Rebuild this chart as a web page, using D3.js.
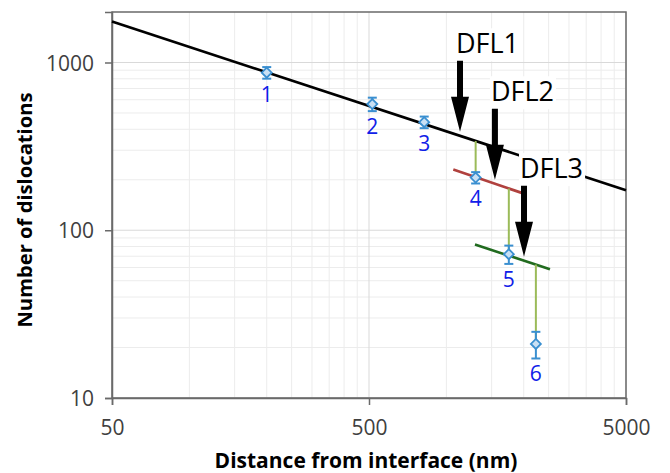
<!DOCTYPE html>
<html><head><meta charset="utf-8">
<script src="https://cdn.jsdelivr.net/npm/d3@7"></script>
<style>body{margin:0;background:#fff}svg{display:block}</style>
</head><body><svg id="c" width="670" height="473"></svg>
<script>
// ---- data ----
const pointLabels = ["1","2","3","4","5","6"];
const distances = [200, 515, 820, 1300, 1750, 2230];
const dislocations = [870, 565, 441, 206, 72, 21];
const errors = [69, 52, 35, 16, 9, 3.8];
const fitDFL1 = [[50, 1754], [5000, 173]];
const fitDFL2 = [[1064, 230], [1964, 167]];
const fitDFL3 = [[1292, 82.2], [2530, 58.6]];
const xTicks = [50, 500, 5000];
const yTicks = [10, 100, 1000];
const xMinor = [100,150,200,250,300,350,400,450,1000,1500,2000,2500,3000,3500,4000,4500];
const yMinor = [20,30,40,50,60,70,80,90,200,300,400,500,600,700,800,900];
const arrowLabels = ["DFL1", "DFL2", "DFL3"];
const arrowX = [1130, 1545, 2005];
const connectorFrom = [null, null, null, 0, 1, 2]; // which fit line feeds each point

// ---- layout ----
const svg = d3.select("#c");
const L = 112, R = 626, T = 12, B = 398;
const x = d3.scaleLog().domain([50, 5000]).range([L, R]);
const y = d3.scaleLog().domain([10, 2000]).range([B, T]);
const fits = [fitDFL1, fitDFL2, fitDFL3];
function fitAt(f, xv) {
  const [p0, p1] = f;
  const k = Math.log(p1[1] / p0[1]) / Math.log(p1[0] / p0[0]);
  return p0[1] * Math.pow(xv / p0[0], k);
}
const font = "'Open Sans', sans-serif";

// grid
const g = svg.append("g");
g.selectAll(".xm").data(xMinor).join("line")
  .attr("x1", d => x(d)).attr("x2", d => x(d)).attr("y1", T).attr("y2", B)
  .attr("stroke", "#ececec").attr("stroke-width", 1);
g.selectAll(".ym").data(yMinor).join("line")
  .attr("x1", L).attr("x2", R).attr("y1", d => y(d)).attr("y2", d => y(d))
  .attr("stroke", "#ececec").attr("stroke-width", 1);
g.selectAll(".xM").data(xTicks).join("line")
  .attr("x1", d => x(d)).attr("x2", d => x(d)).attr("y1", T).attr("y2", B)
  .attr("stroke", "#d9d9d9").attr("stroke-width", 1);
g.selectAll(".yM").data(yTicks).join("line")
  .attr("x1", L).attr("x2", R).attr("y1", d => y(d)).attr("y2", d => y(d))
  .attr("stroke", "#d9d9d9").attr("stroke-width", 1);

// frame
svg.append("rect").attr("x", L).attr("y", T).attr("width", R - L).attr("height", B - T)
  .attr("fill", "none").attr("stroke", "#6a6a6a").attr("stroke-width", 1.5);

// axes
const xAxis = svg.append("g").attr("transform", `translate(0,${B})`)
  .call(d3.axisBottom(x).tickValues(xTicks).tickFormat(d3.format("d")).tickSize(7).tickPadding(15));
const yAxis = svg.append("g").attr("transform", `translate(${L},0)`)
  .call(d3.axisLeft(y).tickValues(yTicks).tickFormat(d3.format("d")).tickSize(7).tickPadding(11));
[xAxis, yAxis].forEach(a => {
  a.select(".domain").attr("stroke", "#6a6a6a").attr("stroke-width", 1.5);
  a.selectAll(".tick line").attr("stroke", "#6a6a6a").attr("stroke-width", 1.5);
  a.selectAll(".tick text").attr("font-family", font).attr("font-size", 21).attr("fill", "#404040");
});
yAxis.selectAll(".tick text").attr("dy", "0.36em");

// axis titles
svg.append("text").attr("x", 366).attr("y", 468)
  .attr("text-anchor", "middle").attr("font-family", font).attr("font-weight", "bold")
  .attr("font-size", 21).attr("fill", "#000").text("Distance from interface (nm)");
svg.append("text").attr("transform", `translate(32,210) rotate(-90)`)
  .attr("text-anchor", "middle").attr("font-family", font).attr("font-weight", "bold")
  .attr("font-size", 20.2).attr("fill", "#000").text("Number of dislocations");

// fit lines
const line = d3.line().x(d => x(d[0])).y(d => y(d[1]));
const fitColors = ["#000000", "#b0413e", "#216b1f"];
fits.forEach((f, i) => {
  svg.append("path").attr("d", line(f)).attr("fill", "none")
    .attr("stroke", fitColors[i]).attr("stroke-width", 2.7);
});

// connectors
distances.forEach((xv, i) => {
  const fi = connectorFrom[i];
  if (fi === null) return;
  svg.append("line").attr("x1", x(xv)).attr("x2", x(xv))
    .attr("y1", y(fitAt(fits[fi], xv))).attr("y2", y(dislocations[i]))
    .attr("stroke", "#9bbb59").attr("stroke-width", 2);
});

// error bars + markers + labels
const blue = "#3a8fd0";
distances.forEach((xv, i) => {
  const cx = x(xv), v = dislocations[i], e = errors[i];
  const yt = y(v + e), yb = y(v - e);
  const eg = svg.append("g").attr("stroke", blue).attr("stroke-width", 2);
  eg.append("line").attr("x1", cx).attr("x2", cx).attr("y1", yt).attr("y2", yb);
  eg.append("line").attr("x1", cx - 4.5).attr("x2", cx + 4.5).attr("y1", yt).attr("y2", yt);
  eg.append("line").attr("x1", cx - 4.5).attr("x2", cx + 4.5).attr("y1", yb).attr("y2", yb);
  const cy = y(v), s = 5;
  svg.append("path").attr("d", `M${cx},${cy - s}L${cx + s},${cy}L${cx},${cy + s}L${cx - s},${cy}Z`)
    .attr("fill", "#c9e0f4").attr("stroke", blue).attr("stroke-width", 1.8);
  svg.append("text").attr("x", cx).attr("y", yb + 23).attr("text-anchor", "middle")
    .attr("font-family", font).attr("font-size", 21).attr("fill", "#1020e8").text(pointLabels[i]);
});

// DFL arrows
arrowX.forEach((xv, i) => {
  const ax = x(xv), tip = y(fitAt(fits[i], xv)) - 4;
  const top = tip - 71, headLen = 35, hw = 9, sw = 3;
  const tx = ax - 4, ty = top - 7.5;
  const lbl = svg.append("g");
  const t = lbl.append("text").attr("x", tx).attr("y", ty)
    .attr("font-family", font).attr("font-size", 27).attr("fill", "#000").text(arrowLabels[i]);
  const bb = t.node().getBBox();
  lbl.insert("rect", "text").attr("x", bb.x - 1).attr("y", bb.y + 4).attr("width", bb.width + 3).attr("height", bb.height - 4)
    .attr("fill", "#fff");
  svg.append("path")
    .attr("d", `M${ax - sw},${top}L${ax + sw},${top}L${ax + sw},${tip - headLen}L${ax + hw},${tip - headLen}L${ax},${tip}L${ax - hw},${tip - headLen}L${ax - sw},${tip - headLen}Z`)
    .attr("fill", "#000");
});
</script></body></html>
